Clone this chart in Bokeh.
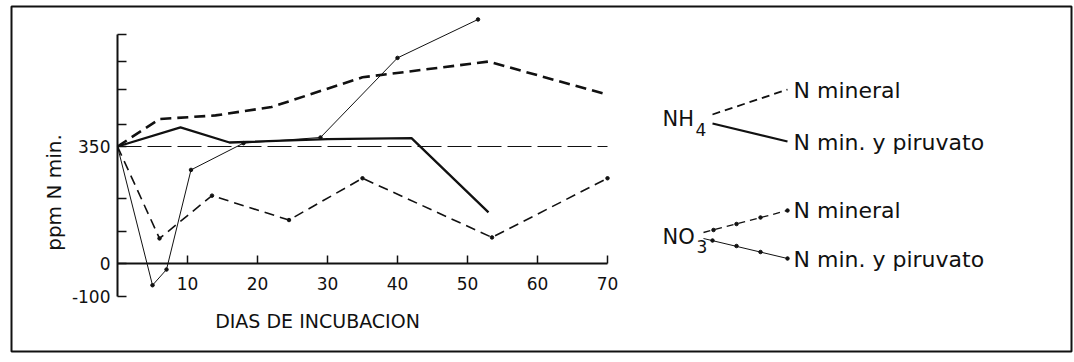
import math
from bokeh.plotting import figure
from bokeh.models import Range1d, FixedTicker, Label, BoxAnnotation
from bokeh.embed import file_html
from bokeh.resources import INLINE

# ---------------- data ----------------
days_nh4_min = [0, 6, 14, 22, 35, 53, 70]
nh4_min = [350, 432, 443, 468, 557, 604, 505]

days_nh4_pir = [0, 9, 16, 30, 42, 53]
nh4_pir = [350, 407, 362, 372, 375, 153]

days_no3_min = [0, 6, 13.5, 24.5, 35, 53.5, 70]
no3_min = [350, 75, 203, 130, 255, 78, 255]

days_no3_pir = [0, 5, 7, 10.5, 18, 29, 40, 51.5]
no3_pir = [350, -65, -18, 280, 360, 377, 615, 730]

ref_days = [0, 70]
ref_level = [350, 350]

x_ticks = [10, 20, 30, 40, 50, 60, 70]
y_ticks = [-100, 0, 95, 195, 350, 415, 520, 605, 685]
y_tick_text = {-100: "-100", 0: "0", 350: "350"}

x_label = "DIAS DE INCUBACION"
y_label = "ppm N min."
leg_min = "N mineral"
leg_pir = "N min. y piruvato"

# ---------------- style / layout ----------------
FONT = "DejaVu Sans"
INK = "#111111"
W, H = 1074, 356
X0_PX, PX_PER_DAY = 117, 7.0
Y0_PX, PX_PER_UNIT = 263, 0.3343


def X(px):  # layout helper: page pixel -> day coordinate
    return (px - X0_PX) / PX_PER_DAY


def Y(py):  # layout helper: page pixel -> ppm coordinate
    return (Y0_PX - py) / PX_PER_UNIT


p = figure(width=W, height=H, output_backend="svg", toolbar_location=None,
           x_range=Range1d(X(0), X(W)), y_range=Range1d(Y(H), Y(0)),
           min_border=0, min_border_left=0, min_border_right=0,
           min_border_top=0, min_border_bottom=0)
p.grid.visible = False
p.outline_line_color = None
p.background_fill_color = "white"
p.border_fill_color = "white"

# axes (placed at the data origin)
p.xaxis.fixed_location = 0
p.xaxis.bounds = (0, 70)
p.xaxis.ticker = FixedTicker(ticks=x_ticks)
p.xaxis.major_tick_in = 8
p.xaxis.major_tick_out = 0
p.xaxis.minor_tick_line_color = None
p.xaxis.axis_line_width = 1.8
p.xaxis.axis_line_color = INK
p.xaxis.major_tick_line_width = 1.5
p.xaxis.major_tick_line_color = INK
p.xaxis.major_label_standoff = 13
p.xaxis.major_label_text_font = FONT
p.xaxis.major_label_text_font_size = "17px"
p.xaxis.major_label_text_color = INK

p.yaxis.fixed_location = 0
p.yaxis.bounds = (-100, 685)
p.yaxis.ticker = FixedTicker(ticks=y_ticks)
p.yaxis.major_label_overrides = {t: y_tick_text.get(t, "") for t in y_ticks}
p.yaxis.major_tick_in = 9
p.yaxis.major_tick_out = 0
p.yaxis.minor_tick_line_color = None
p.yaxis.axis_line_width = 2
p.yaxis.axis_line_color = INK
p.yaxis.major_tick_line_width = 1.5
p.yaxis.major_tick_line_color = INK
p.yaxis.major_label_standoff = 7
p.yaxis.major_label_text_font = FONT
p.yaxis.major_label_text_font_size = "17px"
p.yaxis.major_label_text_color = INK

# reference line at 350
p.line(ref_days, ref_level, line_color=INK, line_width=1.2, line_dash="24 6")

# series
p.line(days_nh4_min, nh4_min, line_color=INK, line_width=2.6, line_dash="11 6")
p.line(days_nh4_pir, nh4_pir, line_color=INK, line_width=2.3)
p.line(days_no3_min, no3_min, line_color=INK, line_width=1.6, line_dash="10 6")
p.scatter(days_no3_min[1:], no3_min[1:], size=3.5, color=INK)
p.line(days_no3_pir, no3_pir, line_color=INK, line_width=1.0)
p.scatter(days_no3_pir[1:], no3_pir[1:], size=3.5, color=INK)


def label(px, py, text, size, align="left", angle=0.0):
    p.add_layout(Label(x=X(px), y=Y(py), text=text, angle=angle,
                       text_align=align, text_baseline="middle", text_font=FONT,
                       text_font_size=size, text_color=INK))


# axis titles
label(317, 320, x_label, "19px", align="center")
label(53, 192, y_label, "20px", align="center", angle=math.pi / 2)

# custom legend
label(662, 118.5, "NH", "21px")
label(695, 129, "4", "17px")
p.line([X(712), X(787)], [Y(114), Y(89)], line_color=INK, line_width=1.8,
       line_dash="8 5")
p.line([X(712), X(787)], [Y(123), Y(141)], line_color=INK, line_width=2.2)

label(662, 236, "NO", "21px")
label(696, 246, "3", "17px")
p.line([X(703), X(787)], [Y(232), Y(210)], line_color=INK, line_width=1.3,
       line_dash="7 5")
p.scatter([X(713), X(736), X(760), X(787)], [Y(229.5), Y(223.5), Y(217), Y(210)],
          size=3.5, color=INK)
p.line([X(703), X(787)], [Y(238), Y(258)], line_color=INK, line_width=1.0)
p.scatter([X(712), X(736), X(760), X(787)], [Y(240), Y(245.5), Y(251.5), Y(258)],
          size=3.5, color=INK)

label(793, 90, leg_min, "22px")
label(793, 142, leg_pir, "22px")
label(793, 209.5, leg_min, "22px")
label(793, 259, leg_pir, "22px")

# border around the whole figure
p.add_layout(BoxAnnotation(left=11, right=1071, top=6, bottom=351,
                           left_units="canvas", right_units="canvas",
                           top_units="canvas", bottom_units="canvas",
                           fill_alpha=0, line_color=INK, line_alpha=1.0,
                           line_width=2))

open("out.html", "w").write(file_html(p, INLINE))
